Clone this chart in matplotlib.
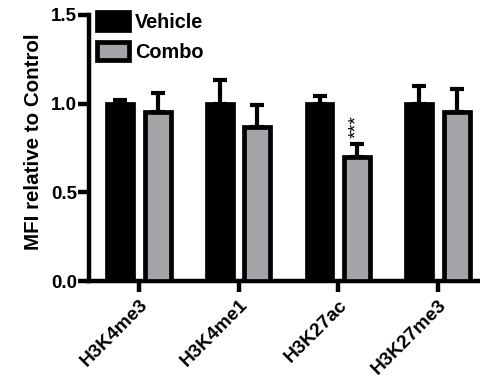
import matplotlib
matplotlib.use("Agg")
import matplotlib.pyplot as plt
import matplotlib.transforms as mtransforms
import numpy as np

plt.rcParams["font.family"] = ["Liberation Sans", "DejaVu Sans"]
plt.rcParams["font.weight"] = "bold"

marks = ["H3K4me3", "H3K4me1", "H3K27ac", "H3K27me3"]
vehicle = [1.00, 1.00, 1.00, 1.00]
vehicle_err = [0.02, 0.135, 0.045, 0.10]
combo = [0.955, 0.87, 0.70, 0.955]
combo_err = [0.105, 0.125, 0.075, 0.125]
yticks = [0.0, 0.5, 1.0, 1.5]

fig = plt.figure(figsize=(4.8, 3.83), dpi=100)
ax = fig.add_axes([0.186, 0.266, 0.814, 0.695])

x = np.arange(len(marks))
lw = 3.4
ax.bar(x - 0.19, vehicle, width=0.26, color="black", edgecolor="black",
       linewidth=lw, label="Vehicle", zorder=3)
ax.bar(x + 0.185, combo, width=0.26, color="#a3a4a8", edgecolor="black",
       linewidth=lw, label="Combo", zorder=3)
ax.errorbar(x - 0.19, vehicle, yerr=[np.zeros(4), vehicle_err], fmt="none",
            ecolor="black", elinewidth=3, capsize=5, capthick=3, zorder=2)
ax.errorbar(x + 0.185, combo, yerr=[np.zeros(4), combo_err], fmt="none",
            ecolor="black", elinewidth=3, capsize=5, capthick=3, zorder=2)

ax.text(2 + 0.185, combo[2] + combo_err[2] + 0.03, "***", rotation=90,
        ha="center", va="bottom", fontsize=14, fontweight="normal")

ax.set_xlim(-0.5, 3.42)
ax.set_ylim(0, 1.5)
ax.set_yticks(yticks)
ax.set_yticklabels([f"{v:.1f}" for v in yticks], fontsize=13.5, fontweight="bold")
ax.set_xticks(x)
ax.set_xticklabels(marks, rotation=45, ha="right", rotation_mode="anchor",
                   fontsize=13.8, fontweight="bold")
shift = mtransforms.ScaledTranslation(5 / 100, 0, fig.dpi_scale_trans)
for lab in ax.get_xticklabels():
    lab.set_transform(lab.get_transform() + shift)
ax.set_ylabel("MFI relative to Control", fontsize=14.8, fontweight="bold")
ax.yaxis.set_label_coords(-0.119, 0.524)

for side in ["top", "right"]:
    ax.spines[side].set_visible(False)
for side in ["left", "bottom"]:
    ax.spines[side].set_linewidth(3.2)
    ax.spines[side].set_capstyle("projecting")
ax.tick_params(axis="y", width=3.2, length=8, pad=1)
ax.tick_params(axis="x", width=3.2, length=8, pad=3)

ax.legend(loc="upper left", bbox_to_anchor=(0.02, 1.01), frameon=False,
          prop={"size": 14.3, "weight": "bold"}, handlelength=1.6,
          handleheight=1.0, handletextpad=0.3, labelspacing=0.5,
          borderpad=0, borderaxespad=0)

fig.savefig("out.png", dpi=100)
